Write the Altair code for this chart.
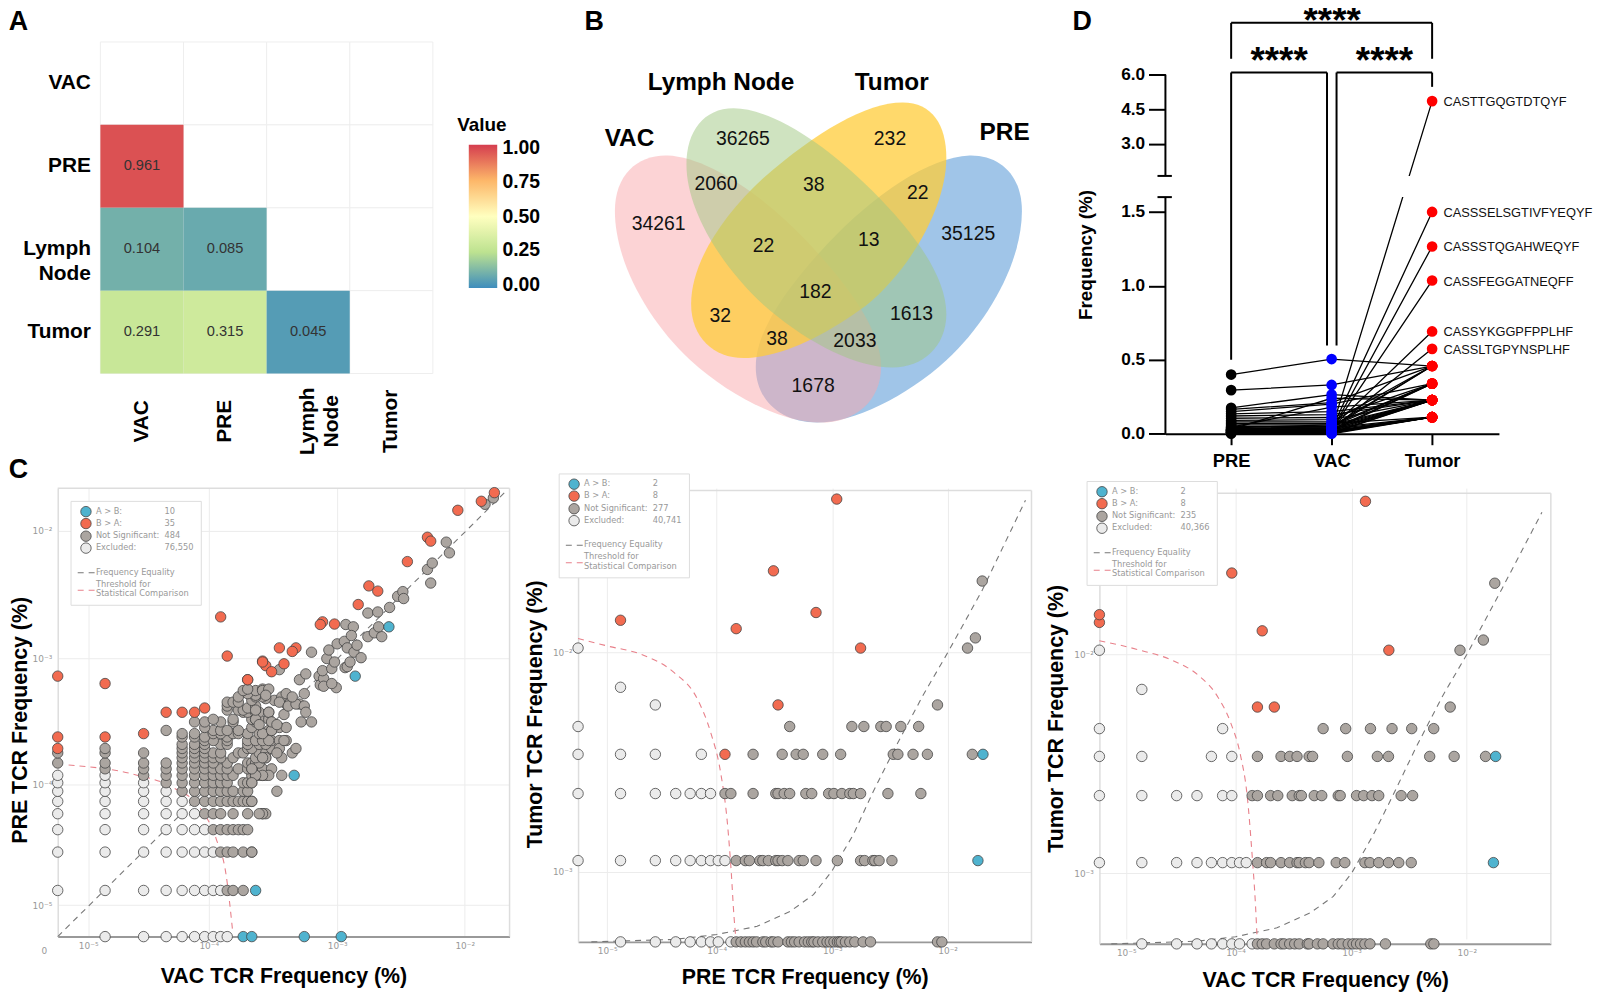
import numpy as np
import pandas as pd
import altair as alt

FONT = "Liberation Sans"
SMALL = "DejaVu Sans"

# ---------- Panel A ----------
A_CATS = ["VAC", "PRE", "Lymph Node", "Tumor"]
A_X = ["VAC", "VAC", "VAC", "PRE", "PRE", "Lymph Node"]
A_Y = ["PRE", "Lymph Node", "Tumor", "Lymph Node", "Tumor", "Tumor"]
A_V = [0.961, 0.104, 0.291, 0.085, 0.315, 0.045]
A_STOPS = [0, 0.25, 0.5, 0.75, 1]
A_COLORS = ["#3E8DBD", "#BDE290", "#FFFFBF", "#FDB769", "#D53E4F"]
A_LEG_TXT = ["1.00", "0.75", "0.50", "0.25", "0.00"]
A_LEG_Y = [142, 176, 211, 245, 280]

# ---------- Panel B ----------
B_NUM = ["36265", "232", "2060", "38", "22", "34261", "35125", "22", "13", "182", "32", "1613", "38", "2033", "1678"]
B_NX = [746, 894, 719, 817.3, 922, 661.3, 972.7, 766.7, 872.7, 819, 723.3, 915.7, 780.3, 858.7, 816.7]
B_NY = [141, 141, 186, 186.7, 195, 226.7, 236.7, 248.7, 242.3, 295, 319.3, 316.7, 341.7, 344.3, 389]
B_SETS = ["Lymph Node", "Tumor", "VAC", "PRE"]
B_SX = [724, 895.7, 632, 1009.3]
B_SY = [85, 85, 140.7, 135]

VAC_EGG = [(172,640),(172,530),(240,470),(330,472),(450,476),(620,590),(760,740),(880,870),(975,1000),(975,1110),(975,1210),(900,1278),(790,1278),(680,1278),(520,1200),(400,1090),(270,970),(172,790),(172,640)]
PRE_EGG = [(1572 - x, y) for x, y in VAC_EGG]
LN_EGG = [(388,500),(388,400),(440,330),(530,330),(640,330),(800,430),(950,580),(1080,710),(1172,840),(1172,950),(1172,1050),(1100,1112),(1010,1112),(900,1112),(760,1040),(640,940),(500,820),(388,640),(388,500)]
TU_EGG = [(1172,480),(1172,380),(1130,312),(1040,312),(930,312),(780,400),(620,540),(490,660),(402,800),(402,920),(402,1020),(470,1083),(560,1083),(670,1083),(800,1020),(930,925),(1070,810),(1172,620),(1172,480)]

def egg(pts):
    p = [(x - 786, y - 800) for x, y in pts]
    s = f"M {p[0][0]} {p[0][1]}"
    for i in range(1, len(p), 3):
        s += f" C {p[i][0]} {p[i][1]} {p[i+1][0]} {p[i+1][1]} {p[i+2][0]} {p[i+2][1]}"
    return s + " Z"

# ---------- Panel D ----------
D_NAMES = ["PRE", "VAC", "Tumor"]
D_PRE = [.40,.295,.175,.165,.15,.135,.12,.105,.09,.08,.07,.06,.02,.01,.015,.01,.02,.01,.03,.02,.04,.03,.02,.01,.05,.04,.03,.02,.01,.01,.02,.01,.005,.02,.03,.015,0,.01,.005,.025,.035,.045,.03]
D_VAC = [.505,.33,.265,.21,.20,.15,.13,.11,.095,.08,.07,.06,.03,.03,.02,.025,.04,.03,.05,.04,.06,.05,.03,.02,.05,.04,.03,.03,.02,.01,.02,.01,.01,.01,.02,.015,.005,.005,0,.03,.04,.18,.24]
D_TUM = [.458,.458,.228,.458,.339,.228,.228,.339,.228,.458,.112,.228,4.85,1.5,1.266,1.036,.692,.574,.458,.458,.339,.339,.339,.339,.228,.228,.228,.228,.228,.228,.112,.112,.112,.112,.112,.112,.112,.228,.112,.112,.112,.228,.228]
D_SEQ = ["CASTTGQGTDTQYF", "CASSSELSGTIVFYEQYF", "CASSSTQGAHWEQYF", "CASSFEGGATNEQFF", "CASSYKGGPFPPLHF", "CASSLTGPYNSPLHF"]
D_SEQ_V = [4.85, 1.5, 1.266, 1.036, .692, .574]
# bracket segments: x, x2, y, y2
D_BR = [(0,2,8.25,8.25),(0,0,8.25,6.69),(2,2,8.25,6.69),
        (0,.954,6.09,6.09),(0,0,6.09,.5),(.954,.954,6.09,.596),
        (1.049,2,6.09,6.09),(1.049,1.049,6.09,.596),(2,2,6.09,5.47)]

# ---------- Panel C, values are clone counts: {tumor-or-PRE count: [x counts]} ----------
C1_EXCL = {0:[1,2,3,4,5,6,7,8,9],1:[0,1,2,3,4,5,6,7,8],2:[0,1,2,3,4,5,6,7],3:[0,1,2,3,4,5,6],4:[0,1,2,3,4,5],5:[0,1,2,3,4],6:[0,1,2,3],7:[0,1,2],8:[0,1]}
C1_NS = {1:[9,10,12],2:[8,9,10,12,14],3:[7,8,9,10,11,12,13],4:[6,7,8,10,13,17,18],5:[5,6,7,8,9,10,11,12,13,14],
 6:[4,5,6,7,8,9,10,12,13],7:[3,4,5,6,7,8,9,12,13,14],8:[2,3,4,5,6,7,8,9,10,14,15,16,17,18],9:[1,2,3,4,5,6,7,8,9,11,13,14,15,17],
 10:[0,1,2,3,4,5,6,7,9,13,14,15,16],11:[4,5,6,7,8,10,15,17,18],12:[0,1,2,4,5,6,7,8,11,12,16,18],13:[1,4,5,6,13,14,20],14:[4,5,6,8,9,13,16,18],15:[6,7,9,13,15,17,20,23,26],
 16:[4,5,6,9],17:[4,5,7,8,10,11,13,16],18:[3,7,8,9,11,19,20],19:[6,14,23],21:[5,6,8,10,15],22:[7,10,14,15,16,19],25:[12,13,15,16,19],26:[9,11,12,15],27:[14,13],28:[9,15],29:[26,33],30:[9,10,11],31:[14,21,28],32:[18],33:[11,17,24,15],34:[15],35:[13],37:[12,15,18],38:[13,17]}
C1_CLOUD_X = [14,17,16,22,14,24,20,19,17,15,14,14,18,17,24,23,29,31,25,22,19,17,20,26,34,41,15,19,25,20,22,16,23,27,31,36,37,36,26,29,17,19,18,15,23,33,37,47,48,51,51,64,59,41,50,54,56,59,62,65,74,78,75,78,82,88,93,100,76,87,84,113,127,145,137,113,135,167,193,212,215,330,360,350,463,490,930,1080]
C1_CLOUD_Y = [2,4,4,6,5,8,9,8,8,8,7,9,11,11,11,13,12,13,15,12,15,17,18,19,21,21,22,25,24,21,20,20,30,28,29,28,25,35,35,33,37,38,34,26,54,45,50,48,41,46,40,39,42,74,53,66,77,55,62,86,90,80,56,57,62,74,84,67,122,117,100,98,105,98,117,150,153,166,203,221,195,330,370,258,540,445,1070,1200]
C1_ORANGE_X = [1100,870,570,330,350,230,115,135,95,50,48,62,23,31,29,17,18,25,20,13,8,9,13,17,0,1,3,4,5,6,0,1,2,0]
C1_ORANGE_Y = [1320,1130,960,590,550,380,245,223,175,128,122,123,80,80,75,63,58,60,52,45,140,69,45,62,48,42,25,25,25,27,16,16,17,13]
C1_BLUE_X = [165,90,30,15,12,14,36,70]
C1_BLUE_Y = [117,48,8,1,0,0,0,0]

C2_EXCL = {0:[1,2,3,4,5,6,7,9],1:[0,1,2,3,4,5,6,7,8],2:[0,1,2,3,4,5,6],3:[0,1,2,5],4:[0],5:[2],6:[1],9:[0]}
C2_NS = {0:[10,11,12,13,14,15,17,18,20,21,23,28,30,32,35,39,42,45,47,51,56,61,65,70,75,78,81,88,96,106,125,145,550,600],
 1:[10,12,13,16,17,19,22,23,25,28,35,38,49,75,119,129,152,158,172,222],
 2:[8,9,14,22,23,26,29,40,45,63,70,82,96,103,119,205,395],
 3:[14,25,33,38,56,80,228,250,338,450,1100],4:[29,100,127,178,198,265,378],5:[550],9:[1000],10:[1170],18:[1340]}
C2_ORANGE = {3:[8],5:[23],9:[119],11:[10],12:[1],13:[49],20:[21],42:[74]}
C2_BLUE = {1:[1230],3:[1360]}

C3_EXCL = {0:[1,2,3,4,5,6,7,9],1:[0,1,2,3,4,5,6,7,8],2:[0,1,2,3,5,6],3:[0,1,4,6],4:[0,5],6:[1],9:[0]}
C3_NS = {0:[10,11,12,14,16,17,19,21,23,27,28,33,37,45,50,54,61,67,72,78,85,94,128,316,336],
 1:[10,12,13,16,19,22,23,26,28,34,48,57,85,94,112,136,167,214],
 2:[9,10,13,15,20,23,24,31,36,50,52,72,83,98,112,175,220],
 3:[10,16,19,22,28,30,60,109,136,309,503,940],4:[37,58,95,146,216,335],5:[465],9:[565],10:[900],18:[1130]}
C3_ORANGE = {5:[10,14],9:[137],11:[11],12:[0],13:[0],20:[6],42:[86]}
C3_BLUE = {1:[1100],3:[1150]}

# curves in log10 count units
C1_RED_X = [-.285,.22,.531,.738,.868,.946,.997]
C1_RED_Y = [.984,.912,.808,.652,.405,.119,-.322]
C1_EQ_X = [-.37,3.12]
C1_EQ_Y = [-.362,3.12]
C2_RED_X = [-.367,-.109,.178,.464,.665,.779,.865,.923,.957,.98,.994]
C2_RED_Y = [.997,.963,.926,.844,.725,.576,.397,.174,-.049,-.243,-.332]
C2_EQ_X = [-.252,.464,.831,1.181,1.467,1.668,1.825,2.011,2.183,2.384,2.613,2.828,3.129,3.501]
C2_EQ_Y = [-.365,-.354,-.332,-.295,-.228,-.153,-.049,.115,.308,.516,.74,.933,1.216,1.618]
C3_RED_X = [-.367,-.034,.281,.481,.653,.768,.854,.911,.954,.983,.997]
C3_RED_Y = [.997,.957,.905,.845,.748,.629,.481,.302,.034,-.189,-.338]
C3_EQ_X = [-.264,.481,.811,1.169,1.456,1.656,1.814,2.0,2.172,2.372,2.602,2.811,3.117,3.461]
C3_EQ_Y = [-.365,-.353,-.333,-.293,-.226,-.152,-.048,.123,.302,.518,.749,.935,1.232,1.574]

CAT_COL = {"ex": "#EBEBEB", "ns": "#ABA5A0", "or": "#F26B50", "bl": "#4FB3CF"}
ONE = pd.DataFrame({"a": [0]})


def txt(s, x, y, size, color="black", bold=False, font=FONT, align="left", angle=0):
    kw = {"fontWeight": "bold"} if bold else {}
    return alt.Chart(ONE).mark_text(text=s, fontSize=size, color=color, font=font, align=align,
                                    baseline="middle", angle=angle, **kw).encode(x=alt.value(x), y=alt.value(y))


# ---------- A ----------
def panel_a():
    rows = [{"x": a, "y": b} for a in A_CATS for b in A_CATS]
    xs = alt.Scale(domain=A_CATS, range=[42.9, 377.3], paddingInner=0, paddingOuter=0)
    ys = alt.Scale(domain=A_CATS, range=[35.3, 368.7], paddingInner=0, paddingOuter=0)
    le = "datum.label == 'Lymph Node' ? ['Lymph\u00a0\u00a0', 'Node'] : datum.label"
    xa = alt.Axis(labelAngle=270, labelAlign="center", labelBaseline="middle", labelPadding=-13,
                  labelFont=FONT, labelFontSize=21, labelFontWeight="bold", labelColor="black",
                  domain=False, ticks=False, grid=False, labelExpr=le, labelLineHeight=24)
    ya = alt.Axis(labelFont=FONT, labelFontSize=21, labelFontWeight="bold", labelColor="black", offset=-42.9,
                  domain=False, ticks=False, grid=False, labelPadding=10, labelExpr=le, labelLineHeight=25)
    X = alt.X("x:N", scale=xs, sort=A_CATS, title=None, axis=xa)
    Y = alt.Y("y:N", scale=ys, sort=A_CATS, title=None, axis=ya)
    bg = alt.Chart(pd.DataFrame(rows)).mark_rect(fill="white", stroke="#EEEEEE", strokeWidth=1).encode(x=X, y=Y)
    df = pd.DataFrame({"x": A_X, "y": A_Y, "v": A_V})
    cells = alt.Chart(df).mark_rect().encode(
        x=X, y=Y,
        color=alt.Color("v:Q", scale=alt.Scale(domain=A_STOPS, range=A_COLORS, interpolate="rgb"),
                        legend=alt.Legend(title=None, orient="none", legendX=413.4, legendY=138.7,
                                          gradientLength=144, gradientThickness=28.6, values=A_STOPS,
                                          labelExpr="''", gradientStrokeWidth=0)))
    labels = alt.Chart(df).mark_text(font=FONT, fontSize=14.7, color="#333333").encode(
        x=X, y=Y, text=alt.Text("v:Q", format=".3f"))
    leg = [txt("Value", 401.7, 118.7, 19, bold=True)]
    for s, y in zip(A_LEG_TXT, A_LEG_Y):
        leg.append(txt(s, 447.2, y, 19.5, bold=True))
        for a, b in [(413.4, 418.4), (437, 442)]:
            leg.append(alt.Chart(ONE).mark_rule(color="white", strokeWidth=1).encode(
                x=alt.value(a), x2=alt.value(b), y=alt.value(y)))
    return alt.layer(bg, cells, labels, *leg, txt("A", -49.3, 15, 27, bold=True)).properties(width=519.7, height=429.3)


# ---------- B ----------
def panel_b():
    xs = alt.Scale(domain=[577, 1170.2], range=[0, 593.2])
    ys = alt.Scale(domain=[8, 437.3], range=[0, 429.3])
    anchor = pd.DataFrame({"x": [822.0], "y": [266.7]})
    eggs = [(PRE_EGG, "#A0C5E8", 1), (VAC_EGG, "#F9A7AB", .5), (TU_EGG, "#FFCC3A", .75), (LN_EGG, "#9FC781", .5)]
    layers = []
    for i, (pts, col, op) in enumerate(eggs):
        m = alt.Chart(anchor).mark_point(shape=egg(pts), filled=True, size=4 / 9, fill=col, opacity=op, strokeWidth=0)
        enc = dict(x=alt.X("x:Q", scale=xs, axis=None), y=alt.Y("y:Q", scale=ys, axis=None))
        layers.append(m.encode(**enc))
    nums = pd.DataFrame({"x": B_NX, "y": B_NY, "t": B_NUM})
    layers.append(alt.Chart(nums).mark_text(font=FONT, fontSize=19.5, color="#111111").encode(
        x=alt.X("x:Q", scale=xs, axis=None), y=alt.Y("y:Q", scale=ys, axis=None), text="t:N"))
    sets = pd.DataFrame({"x": B_SX, "y": B_SY, "t": B_SETS})
    layers.append(alt.Chart(sets).mark_text(font=FONT, fontSize=24.5, fontWeight="bold", color="black").encode(
        x=alt.X("x:Q", scale=xs, axis=None), y=alt.Y("y:Q", scale=ys, axis=None), text="t:N"))
    layers.append(txt("B", 9.7, 15, 27, bold=True))
    return alt.layer(*layers).properties(width=593.2, height=429.3)


# ---------- D ----------
def panel_d():
    xs = alt.Scale(domain=[-.654, 2.665], range=[0, 335.4])
    ys = alt.Scale(domain=[0, 1.6, 1.6001, 9], range=[429.3, 191.3, 170, -1.3])
    xa = alt.Axis(values=[0, 1, 2], labelExpr="['PRE','VAC','Tumor'][datum.value]", grid=False,
                  domainColor="black", domainWidth=2, tickColor="black", tickWidth=2, tickSize=11,
                  labelFont=FONT, labelFontSize=18.5, labelFontWeight="bold", labelColor="black", labelPadding=7)
    ya = alt.Axis(values=[0, .5, 1, 1.5, 3, 4.5, 6], format=".1f", domain=False, grid=False,
                  tickColor="black", tickWidth=2, tickSize=17,
                  labelFont=FONT, labelFontSize=17.3, labelFontWeight="bold", labelColor="black", labelPadding=4,
                  titleFont=FONT, titleFontSize=19, titleFontWeight="bold", titleColor="black",
                  titleX=-70, titleY=249)
    X = alt.X("x:Q", scale=xs, title=None, axis=xa)
    Y = alt.Y("y:Q", scale=ys, title="Frequency (%)", axis=ya)
    rec = []
    for i in range(len(D_PRE)):
        for k, v in enumerate([D_PRE[i], D_VAC[i], D_TUM[i]]):
            rec.append({"id": i, "x": k, "y": v, "g": D_NAMES[k]})
    df = pd.DataFrame(rec)
    lines = alt.Chart(df).mark_line(color="black", strokeWidth=1.3).encode(x=X, y=Y, detail="id:N")
    mask = alt.Chart(pd.DataFrame({"x": [1.0], "x2": [2.66], "y": [1.6], "y2": [1.6001]})).mark_rect(fill="white").encode(
        x=X, x2="x2:Q", y=Y, y2="y2:Q")
    yaxis = pd.DataFrame({"x": [-.654, -.654], "y": [0, 1.6001], "y2": [1.6, 6]})
    yline = alt.Chart(yaxis).mark_rule(color="black", strokeWidth=2).encode(x=X, y=Y, y2="y2:Q")
    brk = pd.DataFrame({"x": [-.733, -.733], "x2": [-.59, -.59], "y": [1.6, 1.6001]})
    brk_l = alt.Chart(brk).mark_rule(color="black", strokeWidth=2).encode(x=X, x2="x2:Q", y=Y)
    br = pd.DataFrame(D_BR, columns=["x", "x2", "y", "y2"])
    brh = alt.Chart(br[br.y == br.y2]).mark_rule(color="black", strokeWidth=2).encode(x=X, x2="x2:Q", y=Y)
    brv = alt.Chart(br[br.x == br.x2]).mark_rule(color="black", strokeWidth=2).encode(x=X, y=Y, y2="y2:Q")
    colors = alt.Scale(domain=D_NAMES, range=["black", "#0000FF", "#FF0000"])
    pts = alt.Chart(df).mark_point(filled=True, size=115, opacity=1).encode(
        x=X, y=Y, fill=alt.Fill("g:N", scale=colors, legend=None))
    seq = pd.DataFrame({"x": [2.0] * 6, "y": D_SEQ_V, "t": D_SEQ})
    seq_l = alt.Chart(seq).mark_text(font=FONT, fontSize=12.9, align="left", dx=11.4, dy=1, color="#111111").encode(
        x=X, y=Y, text="t:N")
    stars = [alt.Chart(ONE).mark_text(text="****", font=FONT, fontSize=37, fontWeight="bold", baseline="alphabetic",
                                      align="center", color="black").encode(x=alt.value(a), y=alt.value(b))
             for a, b in [(167.7, 26), (114.3, 66.5), (220.3, 66.5)]]
    return alt.layer(lines, mask, yline, brk_l, brh, brv, pts, seq_l, *stars,
                     txt("D", -93.4, 15, 27, bold=True)).properties(width=335.4, height=429.3)


# ---------- C ----------
def flat(rows, cat):
    return [{"xc": x, "yc": y, "cat": cat} for y, xs in rows.items() for x in xs]


def scatter(w, h, top, rec, xdom, ydom, xt, yt, xtitle, ytitle, tx, ty, ytx, yty, red, eq, lx, ly, counts, is_first=False):
    df = pd.DataFrame(rec)
    df["lx"] = [np.log10(v) if v > 0 else xdom[0] for v in df.xc]
    df["ly"] = [np.log10(v) if v > 0 else ydom[0] for v in df.yc]
    rank = {"ex": 0, "ns": 1, "or": 2, "bl": 3}
    df["r"] = df.cat.map(rank)
    df = df.sort_values("r")
    xs = alt.Scale(domain=xdom, range=[0, w])
    ys = alt.Scale(domain=ydom, range=[h, top])
    names = ["10\u207b\u2075", "10\u207b\u2074", "10\u207b\u00b3", "10\u207b\u00b2"]
    xexpr = f"datum.value < 0 ? '{names[0]}' : datum.value < 1 ? '{names[1]}' : datum.value < 2 ? '{names[2]}' : '{names[3]}'"
    if len(yt) == 4:
        yexpr = xexpr
    else:
        yexpr = f"datum.value < 0 ? '{names[2]}' : '{names[3]}'"
    xa = alt.Axis(values=xt, labelExpr=xexpr, gridColor="#ECECEC", domainColor="#999999", domainWidth=2,
                  ticks=False, labelColor="#999999", labelFont=SMALL, labelFontSize=9, labelPadding=5,
                  titleFont=FONT, titleFontSize=21.5, titleFontWeight="bold", titleColor="black",
                  titleX=tx, titleY=ty)
    ya = alt.Axis(values=yt, labelExpr=yexpr, gridColor="#ECECEC", domainColor="#DDDDDD", domainWidth=1.5,
                  ticks=False, labelColor="#999999", labelFont=SMALL, labelFontSize=9, labelPadding=6,
                  titleFont=FONT, titleFontSize=21.5, titleFontWeight="bold", titleColor="black",
                  titleX=ytx, titleY=yty)
    X = alt.X("lx:Q", scale=xs, title=xtitle, axis=xa)
    Y = alt.Y("ly:Q", scale=ys, title=ytitle, axis=ya)
    eq_df = pd.DataFrame({"lx": eq[0], "ly": eq[1]})
    red_df = pd.DataFrame({"lx": red[0], "ly": red[1]})
    l_eq = alt.Chart(eq_df).mark_line(color="#777777", strokeDash=[6, 5], strokeWidth=1.1).encode(
        x=X, y=Y, order=alt.Order("lx:Q"))
    l_red = alt.Chart(red_df).mark_line(color="#E8808A", strokeDash=[6, 5], strokeWidth=1.1, interpolate="monotone").encode(
        x=X, y=Y, order=alt.Order("lx:Q"))
    pts = alt.Chart(df).mark_point(filled=True, size=110, opacity=1, stroke="#444444", strokeWidth=.8).encode(
        x=X, y=Y,
        fill=alt.Fill("cat:N", scale=alt.Scale(domain=list(CAT_COL), range=list(CAT_COL.values())), legend=None))
    border = pd.DataFrame({"lx": [xdom[0]], "x2": [xdom[1]], "ly": [ydom[1]]})
    b_top = alt.Chart(border).mark_rule(color="#DDDDDD", strokeWidth=1.5).encode(x=X, x2="x2:Q", y=Y)
    right = pd.DataFrame({"lx": [xdom[1]], "ly": [ydom[0]], "y2": [ydom[1]]})
    b_right = alt.Chart(right).mark_rule(color="#DDDDDD", strokeWidth=1.5).encode(x=X, y=Y, y2="y2:Q")
    legend = [alt.Chart(ONE).mark_rect(fill="white", stroke="#DDDDDD", strokeWidth=1).encode(
        x=alt.value(lx), x2=alt.value(lx + 131), y=alt.value(ly), y2=alt.value(ly + 104.5))]
    rows = [("A > B:", "bl", 10.3), ("B > A:", "or", 22.3), ("Not Significant:", "ns", 35), ("Excluded:", "ex", 47)]
    for (name, c, dy), n in zip(rows, counts):
        legend.append(alt.Chart(ONE).mark_point(filled=True, fill=CAT_COL[c], size=110, opacity=1, stroke="#444444", strokeWidth=.8)
                      .encode(x=alt.value(lx + 15), y=alt.value(ly + dy)))
        legend.append(txt(name, lx + 25, ly + dy, 8.3, "#999999", font=SMALL))
        legend.append(txt(n, lx + 94, ly + dy, 8.3, "#999999", font=SMALL))
    legend.append(alt.Chart(ONE).mark_rule(color="#777777", strokeDash=[6, 5], strokeWidth=1.1).encode(
        x=alt.value(lx + 6.7), x2=alt.value(lx + 25), y=alt.value(ly + 71.7)))
    legend.append(alt.Chart(ONE).mark_rule(color="#E8808A", strokeDash=[6, 5], strokeWidth=1.1).encode(
        x=alt.value(lx + 6.7), x2=alt.value(lx + 25), y=alt.value(ly + 89.3)))
    legend.append(txt("Frequency Equality", lx + 25, ly + 71.7, 8.3, "#999999", font=SMALL))
    legend.append(txt("Threshold for", lx + 25, ly + 83.7, 8.3, "#999999", font=SMALL))
    legend.append(txt("Statistical Comparison", lx + 25, ly + 93.3, 8.3, "#999999", font=SMALL))
    extra = []
    if is_first:
        extra = [txt("C", -49.3, -18, 27, bold=True), txt("0", -16.3, 465, 9, "#999999", font=SMALL)]
    return alt.layer(l_eq, b_top, b_right, l_red, pts, *legend, *extra).properties(width=w, height=h)


c1_rec = flat(C1_EXCL, "ex") + flat(C1_NS, "ns") + \
    [{"xc": a, "yc": b, "cat": "ns"} for a, b in zip(C1_CLOUD_X, C1_CLOUD_Y)] + \
    [{"xc": a, "yc": b, "cat": "or"} for a, b in zip(C1_ORANGE_X, C1_ORANGE_Y)] + \
    [{"xc": a, "yc": b, "cat": "bl"} for a, b in zip(C1_BLUE_X, C1_BLUE_Y)]
c2_rec = flat(C2_EXCL, "ex") + flat(C2_NS, "ns") + flat(C2_ORANGE, "or") + flat(C2_BLUE, "bl")
c3_rec = flat(C3_EXCL, "ex") + flat(C3_NS, "ns") + flat(C3_ORANGE, "or") + flat(C3_BLUE, "bl")

c1 = scatter(454.4, 451, 0, c1_rec, [-.37, 3.16], [-.362, 3.156], [-.132, .81, 1.813, 2.81], [-.115, .835, 1.822, 2.824],
             "VAC TCR Frequency (%)", "PRE TCR Frequency (%)", 227, 29, -26, 233, (C1_RED_X, C1_RED_Y), (C1_EQ_X, C1_EQ_Y),
             13.4, 13.3, ["10", "35", "484", "76,550"], True)
c2 = scatter(456, 456.3, 2.3, c2_rec, [-.367, 3.553], [-.365, 1.662], [-.115, .831, 1.831, 2.828], [-.049, .936],
             "PRE TCR Frequency (%)", "Tumor TCR Frequency (%)", 228, 25, -32, 227, (C2_RED_X, C2_RED_Y), (C2_EQ_X, C2_EQ_Y),
             -19, -14.3, ["2", "8", "277", "40,741"])
c3 = scatter(454, 458.3, 5, c3_rec, [-.367, 3.538], [-.365, 1.66], [-.135, .811, 1.814, 2.811], [-.048, .935],
             "VAC TCR Frequency (%)", "Tumor TCR Frequency (%)", 227, 26, -32, 231.5, (C3_RED_X, C3_RED_Y), (C3_EQ_X, C3_EQ_Y),
             -12.4, -6.7, ["2", "8", "235", "40,366"])

row1 = alt.hconcat(panel_a(), panel_b(), panel_d(), spacing=0, bounds="flush").resolve_scale(fill="independent", color="independent")
row2 = alt.hconcat(c1, c2, c3, spacing=68.3, bounds="flush").resolve_scale(fill="independent")
chart = alt.vconcat(row1, row2, spacing=484, bounds="flush").resolve_scale(fill="independent", color="independent").properties(
    padding={"left": 0, "top": -8, "right": 0, "bottom": 30}).configure_view(stroke=None)
chart.save("out.html", embed_options={"renderer": "svg", "actions": False})
